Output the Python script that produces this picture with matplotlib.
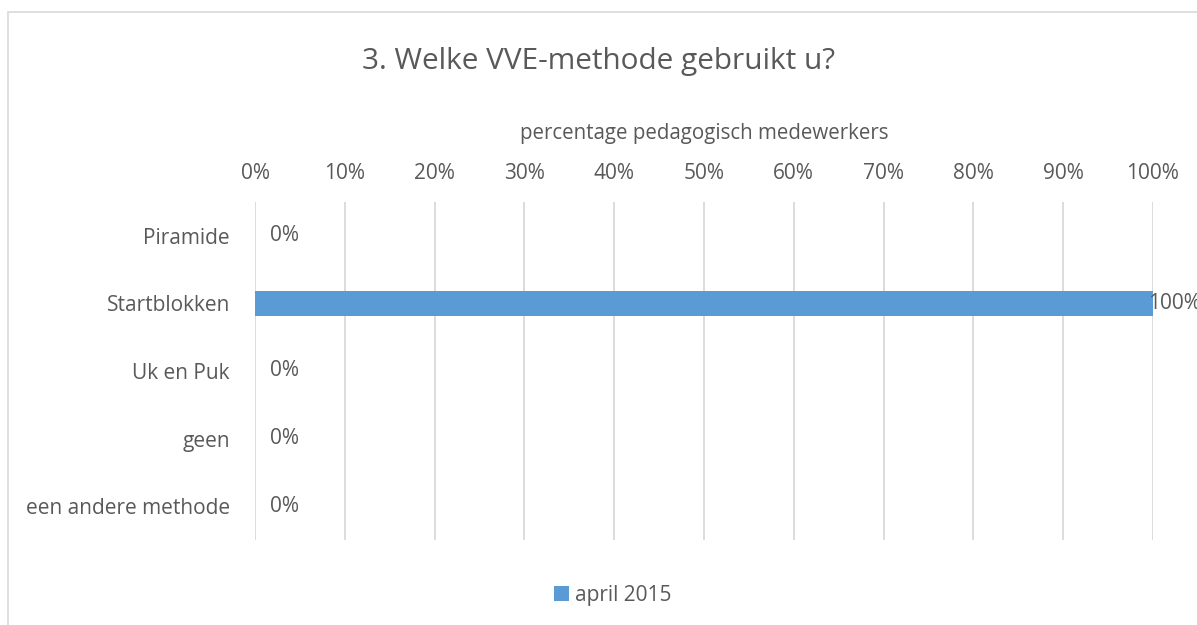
import matplotlib.pyplot as plt
from matplotlib.patches import Rectangle
from matplotlib.ticker import PercentFormatter

plt.rcParams['font.family'] = ['Open Sans', 'DejaVu Sans']

categories = ['Piramide', 'Startblokken', 'Uk en Puk', 'geen', 'een andere methode']
values = [0, 100, 0, 0, 0]
series = 'april 2015'
title = '3. Welke VVE-methode gebruikt u?'
xlabel = 'percentage pedagogisch medewerkers'

TXT = '#595959'
GRID = '#D9D9D9'
BAR = '#5B9BD5'

fig = plt.figure(figsize=(11.97, 6.25), dpi=100)
fig.patches.append(Rectangle((8 / 1197, -0.2), 1.2, 1.2 - 12 / 625,
                             transform=fig.transFigure, fill=False,
                             edgecolor=GRID, linewidth=1.2))
ax = fig.add_axes([255 / 1197, 1 - 540 / 625, 898 / 1197, 338 / 625])

ypos = range(len(categories))
ax.barh(ypos, values, height=0.37, color=BAR, label=series, zorder=3)
ax.set_ylim(len(categories) - 0.5, -0.5)
ax.set_xlim(0, 100)
ax.set_xticks(range(0, 101, 10))
ax.xaxis.set_major_formatter(PercentFormatter(decimals=0))
ax.set_yticks(list(ypos))
ax.set_yticklabels(categories)

ax.xaxis.tick_top()
ax.xaxis.set_label_position('top')
ax.set_xlabel(xlabel, fontsize=14.8, color=TXT, labelpad=17)
ax.tick_params(axis='x', length=0, pad=13, labelsize=15, labelcolor=TXT)
ax.tick_params(axis='y', length=0, pad=18, labelsize=15, labelcolor=TXT)
ax.grid(axis='x', color=GRID, linewidth=1.3, zorder=0)
for s in ax.spines.values():
    s.set_visible(False)

# the 100% label runs off the right edge, same as in the source chart
for i, v in enumerate(values):
    off = 15 if v < 100 else -5
    ax.annotate(f'{v}%', (v, i), xytext=(off, 0), textcoords='offset pixels',
                ha='left', va='center', fontsize=15, color=TXT,
                annotation_clip=False)

fig.text(0.5, 1 - 62 / 625, title, ha='center', va='center', fontsize=21.4, color=TXT)

fig.legend(loc='center', bbox_to_anchor=(0.512, 1 - 595 / 625), frameon=False,
           fontsize=15, handlelength=0.7, handleheight=0.7, handletextpad=0.3,
           labelcolor=TXT)

fig.savefig('out.png', dpi=100)
